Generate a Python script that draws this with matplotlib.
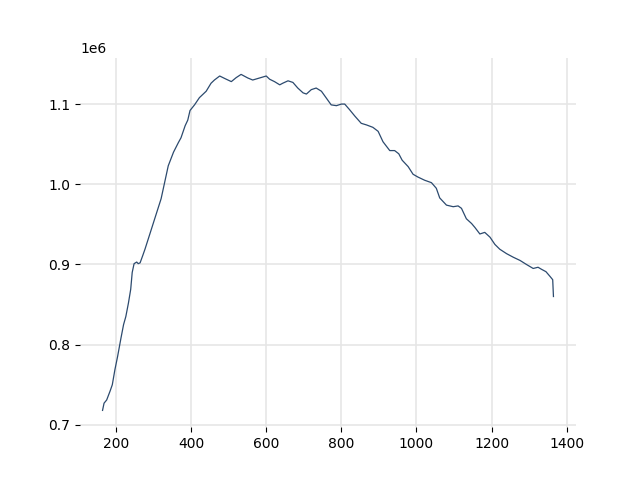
import matplotlib
matplotlib.use("Agg")
import matplotlib.pyplot as plt

# values
wavelength = [164, 168, 175, 184, 190, 197, 204, 213, 220, 226, 233, 239, 243, 248, 255,
              259, 264, 271, 277, 290, 305, 320, 339, 353, 366, 373, 384, 391, 397, 409,
              422, 440, 453, 462, 476, 489, 507, 520, 533, 551, 564, 582, 600, 609, 622,
              636, 644, 658, 671, 684, 698, 707, 720, 733, 747, 760, 773, 787, 800, 809,
              822, 836, 853, 867, 884, 898, 911, 929, 942, 953, 962, 978, 991, 1004, 1022,
              1040, 1053, 1062, 1080, 1098, 1111, 1120, 1133, 1147, 1156, 1169, 1182, 1196,
              1209, 1222, 1240, 1258, 1276, 1293, 1311, 1324, 1333, 1345, 1356, 1363, 1365]
intensity = [0.718, 0.727, 0.731, 0.742, 0.750, 0.769, 0.785, 0.808, 0.825, 0.835, 0.852,
             0.869, 0.890, 0.901, 0.903, 0.901, 0.902, 0.911, 0.919, 0.938, 0.960, 0.982,
             1.023, 1.040, 1.052, 1.058, 1.073, 1.080, 1.092, 1.099, 1.108, 1.116, 1.126,
             1.130, 1.135, 1.132, 1.128, 1.133, 1.137, 1.1325, 1.130, 1.1325, 1.135, 1.131,
             1.128, 1.124, 1.126, 1.129, 1.127, 1.120, 1.114, 1.1125, 1.118, 1.120, 1.116,
             1.1075, 1.099, 1.098, 1.100, 1.100, 1.093, 1.085, 1.076, 1.074, 1.071, 1.066,
             1.053, 1.042, 1.042, 1.038, 1.030, 1.022, 1.0125, 1.009, 1.005, 1.002, 0.995,
             0.983, 0.974, 0.972, 0.973, 0.970, 0.957, 0.951, 0.946, 0.938, 0.940, 0.934,
             0.925, 0.919, 0.9135, 0.909, 0.905, 0.900, 0.895, 0.8965, 0.894, 0.891, 0.885,
             0.881, 0.860]
intensity = [v * 1e6 for v in intensity]

fig, ax = plt.subplots(figsize=(6.4, 4.8), dpi=100)
ax.plot(wavelength, intensity, color='#2c4a6e', linewidth=0.9)

ax.grid(True, color='#e6e6e6', linewidth=1.2)
ax.set_axisbelow(True)
for s in ax.spines.values():
    s.set_visible(False)
ax.set_xticks([200, 400, 600, 800, 1000, 1200, 1400])

fig.savefig('out.png')
